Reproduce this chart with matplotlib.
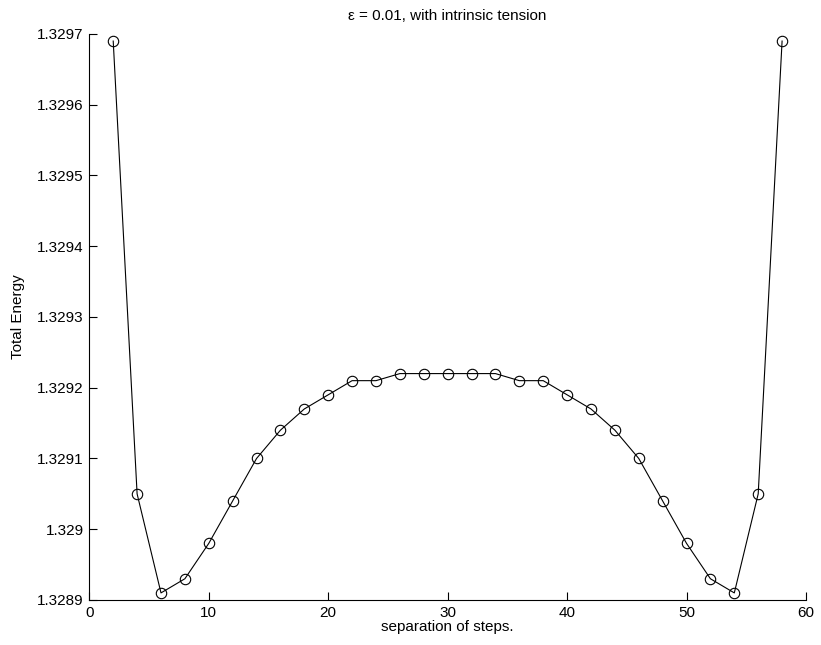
import numpy as np
import matplotlib.pyplot as plt

plt.rcParams['font.family'] = ['Liberation Sans', 'DejaVu Sans']

# separation of steps vs total energy
separation = [2, 4, 6, 8, 10, 12, 14, 16, 18, 20, 22, 24, 26, 28, 30,
              32, 34, 36, 38, 40, 42, 44, 46, 48, 50, 52, 54, 56, 58]
energy = [1.32969, 1.32905, 1.32891, 1.32893, 1.32898, 1.32904, 1.32910,
          1.32914, 1.32917, 1.32919, 1.32921, 1.32921, 1.32922, 1.32922,
          1.32922, 1.32922, 1.32922, 1.32921, 1.32921, 1.32919, 1.32917,
          1.32914, 1.32910, 1.32904, 1.32898, 1.32893, 1.32891, 1.32905,
          1.32969]
xticks = [0, 10, 20, 30, 40, 50, 60]
yticks = [1.3289, 1.3290, 1.3291, 1.3292, 1.3293, 1.3294, 1.3295, 1.3296, 1.3297]
ytick_labels = ['1.3289', '1.329', '1.3291', '1.3292', '1.3293', '1.3294',
                '1.3295', '1.3296', '1.3297']

fig = plt.figure(figsize=(8.21, 6.45), dpi=100)
ax = fig.add_axes([0.1088, 0.0698, 0.8729, 0.8775])

ax.plot(separation, energy, color='black', linewidth=0.8, marker='o',
        markersize=7.5, markerfacecolor='none', markeredgewidth=0.8)

ax.set_xlim(0, 60)
ax.set_ylim(1.3289, 1.3297)
ax.set_xticks(xticks)
ax.set_yticks(yticks)
ax.set_yticklabels(ytick_labels)

for side in ['top', 'right']:
    ax.spines[side].set_visible(False)
for side in ['left', 'bottom']:
    ax.spines[side].set_linewidth(0.8)

ax.tick_params(direction='in', length=5.5, width=0.8, labelsize=11, pad=4)

ax.set_title('\u03b5 = 0.01, with intrinsic tension', fontsize=11, pad=10)
ax.set_xlabel('separation of steps.', fontsize=11, labelpad=0)
ax.set_ylabel('Total Energy', fontsize=11, labelpad=9)

fig.savefig('out.png', dpi=100)
